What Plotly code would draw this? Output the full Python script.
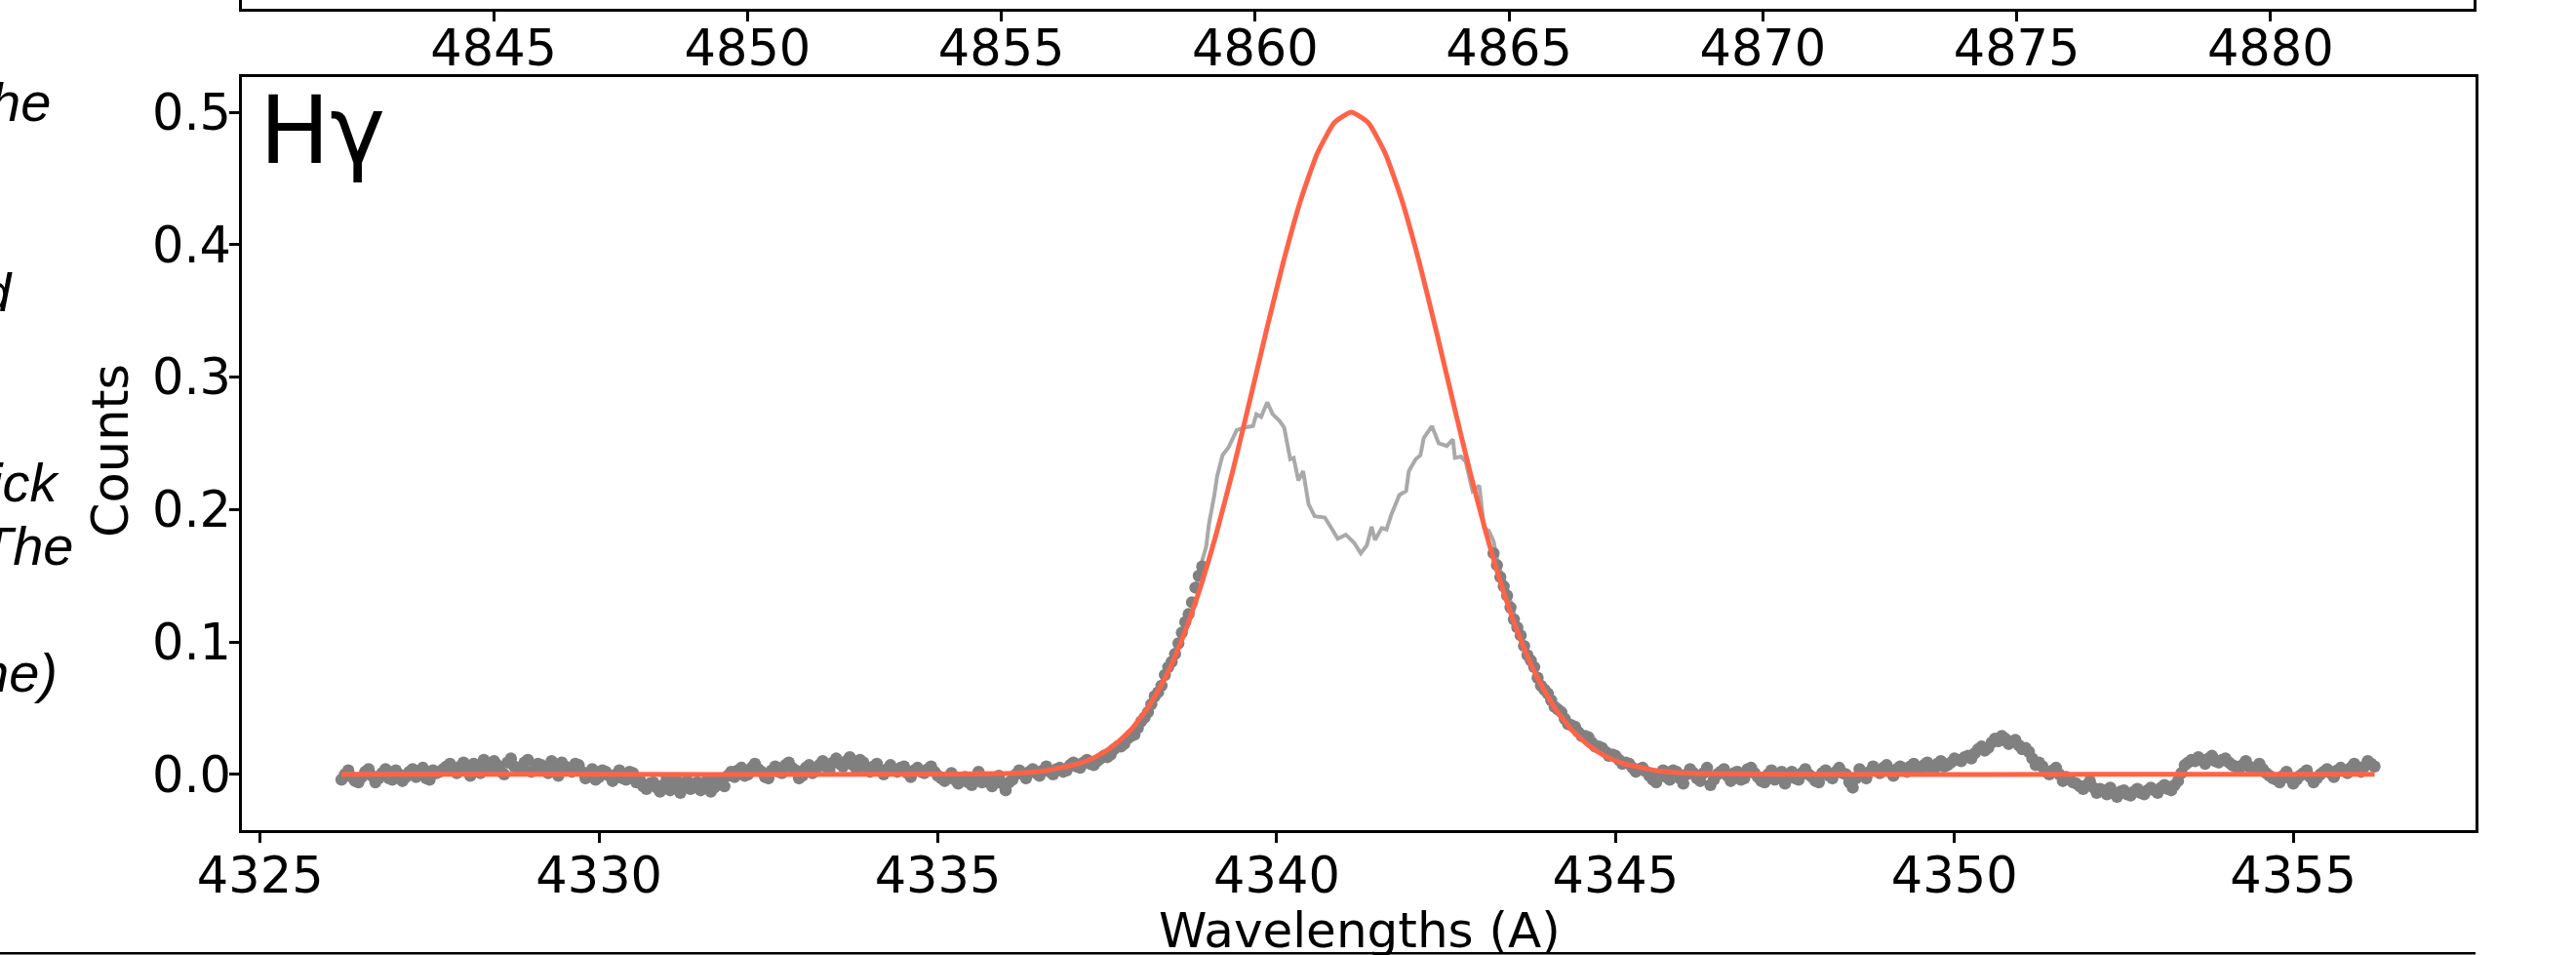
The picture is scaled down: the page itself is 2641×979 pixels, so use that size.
import plotly.graph_objects as go

W, H = 2641, 979

# ---------------- data ----------------
# wing data points (grey dots), sampled every 0.1 A ...
left_start = 4326.2
left_vals = [
    -0.004, 0.003, -0.005, -0.002, 0.004, -0.006, 0.001, -0.003, 0.003, -0.005,
    0.002, -0.002, 0.005, -0.004, 0.001, 0.004,
    0.008, 0.001, 0.009, -0.001, 0.006, 0.011, 0.003, 0.007, 0.000, 0.012,
    0.005, 0.009, 0.002, 0.008, 0.004, 0.010, -0.001, 0.006, 0.002, 0.007,
    -0.003, 0.004, -0.002, 0.002, -0.005, 0.003, -0.004, 0.001,
    -0.004, -0.011, -0.006, -0.013, -0.003, -0.010, -0.014, -0.005, -0.009, -0.012,
    -0.004, -0.010, -0.006, -0.001,
    -0.002, 0.005, 0.000, 0.008, 0.002, -0.003, 0.006, 0.001, 0.009, 0.003,
    -0.001, 0.007, 0.004,
    0.010, 0.003, 0.012, 0.006, 0.013, 0.004, 0.009, 0.002, 0.008,
    0.000, 0.007, 0.002, 0.006, -0.002, 0.005, 0.001, 0.006, -0.001,
    -0.005, 0.001, -0.007, -0.002, -0.008, 0.002, -0.004, -0.009, -0.001, -0.012,
    -0.004,
    0.003, -0.003, 0.004, -0.001, 0.006, 0.000, 0.005,
    0.003, 0.009, 0.005, 0.011, 0.007,
    0.012, 0.013, 0.019, 0.021, 0.027, 0.030, 0.040, 0.047, 0.059, 0.067,
    0.081, 0.091, 0.107, 0.121, 0.141, 0.157,
]
# ... and the points lying half-way between them (every 0.1 A, offset 0.05 A)
left_mid_vals = [
    0.000, -0.002, -0.006, 0.002, -0.001, -0.003, 0.004, -0.004, 0.000, -0.002,
    0.004, 0.001, -0.003, 0.003, 0.002, 0.006,
    0.004, 0.006, 0.003, 0.008, 0.001, 0.008, 0.010, 0.002, 0.009, 0.006,
    0.003, 0.011, 0.004, 0.007, 0.001, 0.005, 0.009, 0.003, 0.008, 0.002,
    0.001, -0.004, 0.003, -0.001, 0.000, -0.003, 0.002, -0.006,
    -0.009, -0.007, -0.010, -0.008, -0.012, -0.005, -0.008, -0.011, -0.006, -0.008,
    -0.013, -0.003, -0.009, 0.002,
    0.003, -0.001, 0.005, 0.004, -0.002, 0.003, 0.002, 0.007, 0.005, -0.003,
    0.005, 0.001, 0.007,
    0.006, 0.009, 0.008, 0.010, 0.007, 0.011, 0.005, 0.006, 0.003,
    0.004, 0.003, 0.005, 0.001, 0.003, 0.002, 0.004, 0.002, -0.003,
    -0.002, -0.004, -0.003, -0.006, -0.002, -0.006, -0.006, -0.003, -0.007, -0.006,
    0.000,
    0.001, 0.002, 0.001, 0.003, 0.002, 0.004, 0.002,
    0.007, 0.006, 0.009, 0.008, 0.010,
    0.014, 0.015, 0.021, 0.023, 0.029, 0.035, 0.043, 0.053, 0.062, 0.075,
    0.085, 0.099, 0.115, 0.130, 0.150,
]
right_start = 4343.2
right_vals = [
    0.167, 0.149, 0.135, 0.117, 0.105, 0.090, 0.081, 0.067, 0.061, 0.051,
    0.047, 0.038, 0.036, 0.029, 0.028, 0.021, 0.020, 0.014, 0.014, 0.008,
    0.008, 0.002, 0.005, -0.001,
    -0.006, 0.003, -0.004, 0.002, -0.007, 0.004, -0.003, 0.001, -0.008, 0.000,
    0.004, -0.005, 0.002, -0.003, 0.005, -0.002, -0.006, 0.003, -0.001, -0.007,
    0.002, -0.004, 0.004, -0.002, -0.006, 0.003, -0.003, 0.005, 0.000, -0.010,
    0.004, -0.003, 0.006, 0.001, 0.007, -0.001, 0.006, 0.002, 0.008, 0.003,
    0.009, 0.004, 0.010, 0.007,
    0.012, 0.010, 0.014, 0.016, 0.021, 0.020, 0.027, 0.029, 0.023, 0.026,
    0.019, 0.017, 0.007, 0.006, 0.000, 0.005, -0.005, -0.004, -0.007, -0.011,
    -0.005, -0.014, -0.012, -0.010, -0.017, -0.012, -0.016, -0.011, -0.015, -0.010,
    -0.014, -0.008, -0.012, -0.005,
    0.007, 0.011, 0.013, 0.008, 0.014, 0.009, 0.012, 0.007, 0.004, 0.010,
    0.003, 0.008, 0.001, -0.003, -0.006, 0.002, -0.007, -0.001, 0.003, -0.006,
    0.000, 0.004, -0.002, 0.005, 0.001, 0.008, 0.002, 0.010, 0.006,
]
right_mid_vals = [
    0.158, 0.142, 0.126, 0.111, 0.097, 0.086, 0.073, 0.064, 0.056, 0.049,
    0.042, 0.037, 0.032, 0.029, 0.024, 0.021, 0.017, 0.015, 0.011, 0.009,
    0.005, 0.004, 0.002, -0.004,
    0.000, -0.002, 0.003, -0.003, 0.000, 0.001, -0.005, 0.005, -0.004, 0.002,
    -0.001, 0.001, -0.004, 0.004, 0.001, -0.005, 0.000, -0.004, 0.002, -0.002,
    -0.003, 0.001, 0.000, -0.005, 0.001, -0.001, 0.002, 0.001, -0.006, -0.003,
    0.001, 0.002, 0.003, 0.005, 0.002, 0.004, 0.003, 0.006, 0.004, 0.007,
    0.005, 0.008, 0.006, 0.009,
    0.011, 0.013, 0.012, 0.019, 0.018, 0.024, 0.025, 0.027, 0.025, 0.022,
    0.020, 0.012, 0.009, 0.002, 0.003, 0.000, -0.002, -0.006, -0.009, -0.008,
    -0.010, -0.011, -0.015, -0.014, -0.013, -0.015, -0.013, -0.014, -0.012, -0.012,
    -0.010, -0.011, -0.008, 0.001,
    0.009, 0.010, 0.011, 0.012, 0.010, 0.011, 0.009, 0.006, 0.007, 0.006,
    0.005, 0.004, -0.001, -0.004, -0.001, -0.003, -0.004, 0.001, -0.002, -0.003,
    0.002, 0.001, 0.003, 0.003, 0.005, 0.005, 0.006, 0.008,
]

# masked line core (light grey line)
core_wl = [4338.80, 4338.88, 4338.96, 4339.00, 4339.08, 4339.12, 4339.20, 4339.29,
           4339.41, 4339.53, 4339.65, 4339.70, 4339.77, 4339.86, 4339.94, 4340.04,
           4340.11, 4340.20, 4340.25, 4340.32, 4340.39, 4340.47, 4340.56, 4340.71,
           4340.83, 4340.90, 4341.02, 4341.14, 4341.24, 4341.33, 4341.40, 4341.45,
           4341.55, 4341.62, 4341.69, 4341.81, 4341.91, 4341.95, 4342.05, 4342.12,
           4342.17, 4342.29, 4342.39, 4342.51, 4342.60, 4342.63, 4342.72, 4342.79,
           4342.89, 4342.99, 4343.06, 4343.13, 4343.20, 4343.27, 4343.39, 4343.51]
core_vals = [0.140, 0.158, 0.172, 0.189, 0.211, 0.225, 0.241, 0.247,
             0.260, 0.262, 0.263, 0.272, 0.270, 0.281, 0.272, 0.267,
             0.262, 0.238, 0.239, 0.222, 0.229, 0.204, 0.195, 0.194,
             0.184, 0.178, 0.181, 0.175, 0.167, 0.173, 0.187, 0.177,
             0.186, 0.185, 0.196, 0.211, 0.214, 0.229, 0.238, 0.241,
             0.254, 0.263, 0.250, 0.248, 0.253, 0.239, 0.240, 0.236,
             0.214, 0.218, 0.186, 0.184, 0.176, 0.158, 0.142, 0.120]

# fitted profile (tomato line)
fit_wl = [4326.2, 4330.0, 4334.0, 4336.1, 4336.6, 4337.1, 4337.35, 4337.6, 4337.85,
          4338.1, 4338.35, 4338.6, 4338.85, 4339.1, 4339.35, 4339.6, 4339.85, 4340.1,
          4340.35, 4340.6, 4340.85, 4341.1, 4341.35, 4341.6, 4341.85, 4342.1, 4342.35,
          4342.6, 4342.85, 4343.1, 4343.35, 4343.6, 4343.85, 4344.1, 4344.35, 4344.6,
          4344.85, 4345.1, 4345.6, 4346.1, 4348.0, 4352.0, 4356.2]
fit_vals = [0.0, 0.0, 0.0, 0.0009, 0.0029, 0.0084, 0.0138, 0.0220, 0.0338,
            0.0504, 0.0726, 0.1015, 0.1375, 0.1802, 0.2289, 0.2817, 0.3357, 0.3874,
            0.4331, 0.4691, 0.4921, 0.5000, 0.4921, 0.4691, 0.4331, 0.3874, 0.3357,
            0.2817, 0.2289, 0.1802, 0.1375, 0.1015, 0.0726, 0.0504, 0.0338, 0.0220,
            0.0138, 0.0084, 0.0029, 0.0009, 0.0, 0.0, 0.0]

x_ticks = [4325, 4330, 4335, 4340, 4345, 4350, 4355]
y_ticks = [0.0, 0.1, 0.2, 0.3, 0.4, 0.5]
y_tick_text = ["0.0", "0.1", "0.2", "0.3", "0.4", "0.5"]
top_ticks = [4845, 4850, 4855, 4860, 4865, 4870, 4875, 4880]

dots_wl, dots_vals = [], []
for start, full, mids in [(left_start, left_vals, left_mid_vals),
                          (right_start, right_vals, right_mid_vals)]:
    for i, v in enumerate(full):
        dots_wl.append(round(start + 0.1 * i, 3))
        dots_vals.append(v)
        if i < len(mids):
            dots_wl.append(round(start + 0.1 * i + 0.05, 3))
            dots_vals.append(mids[i])
    dots_wl.append(None)
    dots_vals.append(None)

# ---------------- figure ----------------
def px(x):
    return x / W

def py(y):
    return 1 - y / H

FONT = "DejaVu Sans"
TICKF = dict(family=FONT, size=51, color="black")

fig = go.Figure()

fig.add_trace(go.Scatter(x=core_wl, y=core_vals, mode="lines",
                         line=dict(color="#a9a9a9", width=4), xaxis="x", yaxis="y"))
fig.add_trace(go.Scatter(x=dots_wl, y=dots_vals, mode="markers",
                         marker=dict(color="#808080", size=12.5, line=dict(width=0)),
                         xaxis="x", yaxis="y"))
fig.add_trace(go.Scatter(x=fit_wl, y=fit_vals, mode="lines",
                         line=dict(color="#ff6347", width=5, shape="spline", smoothing=0.5),
                         xaxis="x", yaxis="y"))
# invisible anchor trace so the upper (cut-off) panel's axis is drawn
fig.add_trace(go.Scatter(x=[top_ticks[0]], y=[0.5], mode="markers",
                         marker=dict(opacity=0), hoverinfo="skip",
                         xaxis="x2", yaxis="y2"))

axis_common = dict(showgrid=False, zeroline=False, showline=True, linecolor="black",
                   linewidth=2.5, ticks="outside", ticklen=10, tickwidth=2.5,
                   tickcolor="black", tickfont=TICKF)

fig.update_layout(
    width=W, height=H,
    margin=dict(l=0, r=0, t=0, b=0, autoexpand=False),
    paper_bgcolor="white", plot_bgcolor="white",
    showlegend=False,
    xaxis=dict(domain=[px(248), px(2538)], range=[4324.73, 4357.69], anchor="y",
               tickmode="array", tickvals=x_ticks, mirror=True,
               ticklabelstandoff=-10, **axis_common),
    yaxis=dict(domain=[py(851), py(79)], range=[-0.0421, 0.5266], anchor="x",
               tickmode="array", tickvals=y_ticks, ticktext=y_tick_text,
               mirror=True, ticklabelstandoff=-12, **axis_common),
    xaxis2=dict(domain=[px(248), px(2536)], range=[4840.04, 4884.0], anchor="y2",
                tickmode="array", tickvals=top_ticks, mirror=False,
                ticklabelstandoff=-16, **axis_common),
    yaxis2=dict(domain=[py(9), 1.0], range=[0, 1], anchor="x2", showgrid=False,
                zeroline=False, showline=True, linecolor="black", linewidth=2.5,
                mirror=True, ticks="", showticklabels=False),
)

annotations = [
    dict(text="H\u03b3", x=px(264), y=py(134), xanchor="left", yanchor="middle",
         font=dict(family=FONT, size=96, color="black")),
    dict(text="Wavelengths (A)", x=px(1394), y=py(954), xanchor="center", yanchor="middle",
         font=dict(family=FONT, size=50, color="black")),
    dict(text="Counts", x=px(113), y=py(462), xanchor="center", yanchor="middle",
         textangle=-90, font=dict(family=FONT, size=51, color="black")),
]
ITAL = dict(family="Liberation Sans", size=56, color="black")
for txt, xr, base in [("he", 52, 124), ("d", 13, 319), ("ick", 61, 514),
                      ("The", 76, 579), ("ne)", 59, 709)]:
    annotations.append(dict(text="<i>" + txt + "</i>", x=px(xr + 2), y=py(base - 19.5),
                            xanchor="right", yanchor="middle", font=ITAL))
for a in annotations:
    a.update(xref="paper", yref="paper", showarrow=False)
fig.update_layout(annotations=annotations)

fig.add_shape(type="line", xref="paper", yref="paper", x0=0, x1=px(2538),
              y0=py(977.3), y1=py(977.3), line=dict(color="black", width=2.5))

fig.write_html("out.html", config={"displayModeBar": False},
               post_script="document.body.style.margin='0';")
